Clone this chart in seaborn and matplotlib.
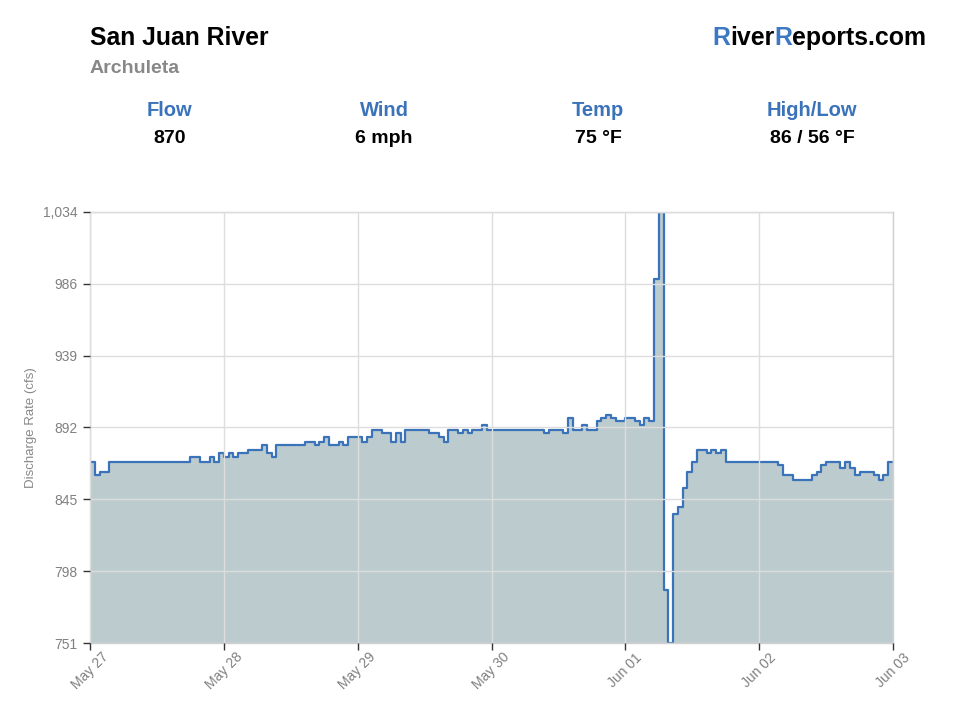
import numpy as np
import pandas as pd
import matplotlib.pyplot as plt
import seaborn as sns

river = "San Juan River"
station = "Archuleta"
stat_names = ["Flow", "Wind", "Temp", "High/Low"]
stat_values = ["870", "6 mph", "75 °F", "86 / 56 °F"]
x_labels = ["May 27", "May 28", "May 29", "May 30", "Jun 01", "Jun 02", "Jun 03"]
y_labels = ["751", "798", "845", "892", "939", "986", "1,034"]

# hourly discharge (cfs)
flow = [
    870, 861, 863, 863, 870, 870, 870, 870, 870, 870, 870, 870,
    870, 870, 870, 870, 870, 870, 870, 870, 870, 873, 873, 870,
    870, 873, 870, 876, 873, 876, 873, 876, 876, 878, 878, 878,
    881, 876, 873, 881, 881, 881, 881, 881, 881, 883, 883, 881,
    883, 886, 881, 881, 883, 881, 886, 886, 886, 883, 886, 891,
    891, 889, 889, 883, 889, 883, 891, 891, 891, 891, 891, 889,
    889, 886, 883, 891, 891, 889, 891, 889, 891, 891, 894, 891,
    891, 891, 891, 891, 891, 891, 891, 891, 891, 891, 891, 889,
    891, 891, 891, 889, 899, 891, 891, 894, 891, 891, 897, 899,
    901, 899, 897, 897, 899, 899, 897, 894, 899, 897, 990, 1034,
    786, 751, 836, 840, 853, 863, 870, 878, 878, 876, 878, 876,
    878, 870, 870, 870, 870, 870, 870, 870, 870, 870, 870, 870,
    868, 861, 861, 858, 858, 858, 858, 861, 863, 868, 870, 870,
    870, 866, 870, 866, 861, 863, 863, 863, 861, 858, 861, 870,
]

df = pd.DataFrame({"hour": np.arange(len(flow) + 1), "cfs": flow + [flow[-1]]})

blue = "#3a73b9"
gray = "#888888"

sns.set_style("whitegrid")
plt.rcParams["font.family"] = ["Liberation Sans", "DejaVu Sans"]

fig = plt.figure(figsize=(9.6, 7.2), dpi=100)
ax = fig.add_axes([0.09375, 0.1069, 0.8365, 0.5987])

ymin, ymax = 751, 1034
ax.fill_between(df["hour"], df["cfs"], ymin, step="post", color="#bccbce", linewidth=0)
sns.lineplot(data=df, x="hour", y="cfs", drawstyle="steps-post", color=blue,
             linewidth=1.6, ax=ax)

ax.set_xlim(0, len(flow))
ax.set_ylim(ymin, ymax)
ax.set_yticks(np.linspace(ymin, ymax, len(y_labels)))
ax.set_yticklabels(y_labels)
ax.set_xticks(np.linspace(0, len(flow), len(x_labels)))
# labels rotate about their centre, sitting just below each tick
ax.set_xticklabels(x_labels, rotation=45, ha="center", va="center", rotation_mode="anchor")

ax.set_xlabel("")
ax.set_ylabel("Discharge Rate (cfs)", color=gray, fontsize=9.5, labelpad=4)
ax.grid(True, color="#dddddd", linewidth=1)
ax.set_axisbelow(False)
for s in ax.spines.values():
    s.set_color("#d0d0d0")
    s.set_linewidth(1)
ax.tick_params(axis="both", which="major", direction="out", length=5, width=1,
               color="#333333", labelcolor="#808080", labelsize=10, pad=4)
ax.tick_params(axis="x", bottom=True, pad=15)
ax.tick_params(axis="y", left=True)

# header
fig.text(0.09375, 0.947, river, fontsize=17.8, weight="bold", color="black", va="center")
fig.text(0.09375, 0.905, station, fontsize=14, weight="bold", color=gray, va="center")

fig.canvas.draw()
r = fig.canvas.get_renderer()
full = fig.text(0.9646, 0.947, "RiverReports.com", fontsize=17.9, weight="bold",
                ha="right", va="center", alpha=0)
x0 = full.get_window_extent(r).x0
for part, col in [("R", "#3c78c3"), ("iver", "black"), ("R", "#3c78c3"), ("eports.com", "black")]:
    t = fig.text(x0 / fig.bbox.width, 0.947, part, fontsize=17.9, weight="bold",
                 color=col, ha="left", va="center")
    x0 += t.get_window_extent(r).width

for cx, name, val in zip([0.177, 0.4, 0.623, 0.846], stat_names, stat_values):
    fig.text(cx, 0.846, name, fontsize=14.5, weight="bold", color=blue, ha="center", va="center")
    fig.text(cx, 0.808, val, fontsize=14, weight="bold", color="black", ha="center", va="center")

fig.savefig("out.png", dpi=100)
